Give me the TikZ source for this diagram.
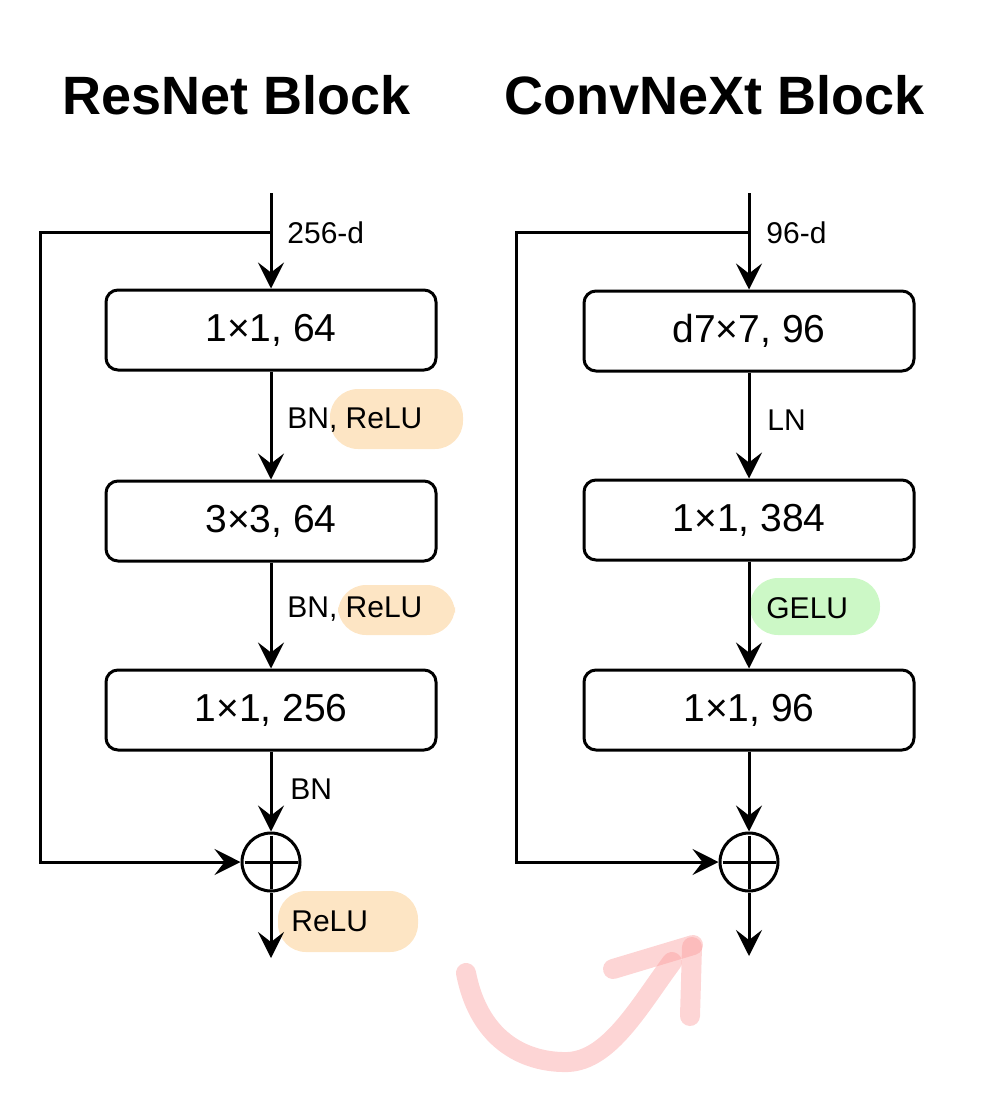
\documentclass[tikz,border=0pt]{standalone}
\usepackage{fontspec}
\setmainfont{Liberation Sans}
\usetikzlibrary{arrows.meta}
\definecolor{hlorange}{RGB}{253,229,196}
\definecolor{hlgreen}{RGB}{204,248,198}
\definecolor{pinkarrow}{RGB}{250,150,150}
\begin{document}
\begin{tikzpicture}[x=0.5pt,y=-0.5pt,
  blk/.style={draw,line width=1.5pt,rounded corners=6pt,minimum width=165pt,minimum height=40pt,font=\fontsize{19.5}{22}\selectfont,inner sep=0pt},
  conn/.style={line width=1.5pt,line join=miter,-{Stealth[length=13pt,width=13pt,inset=5pt]}},
  wire/.style={line width=1.5pt},
  lbl/.style={anchor=west,inner sep=0pt,font=\fontsize{15}{18}\selectfont},
  ttl/.style={font=\bfseries\fontsize{27}{32}\selectfont},
  hl/.style={rounded corners=14pt},
  addc/.style={draw,circle,line width=1.5pt,minimum size=29pt,inner sep=0pt},
  pinkstroke/.style={draw=pinkarrow,opacity=0.4,line width=10pt,line cap=round,line join=round}]
\useasboundingbox (0,0) rectangle (1000,1109);
% titles
\node[ttl] (t1) at (237,95) {ResNet Block};
\node[ttl] (t2) at (715,95) {ConvNeXt Block};
% highlights
\fill[hlorange,hl] (330,389) rectangle (463,449);
\fill[hlorange,hl] (338,585) rectangle (455,635);
\fill[hlorange,hl] (278,891) rectangle (418,952);
\fill[hlgreen,hl] (750,578) rectangle (880,635);
% ResNet column
\node[blk] (L1) at (271,330) {1×1, 64};
\node[blk] (L2) at (271,521) {3×3, 64};
\node[blk] (L3) at (271,710) {1×1, 256};
\node[addc] (La) at (271,862) {};
\draw[wire] ([yshift=-2pt]La.north) -- ([yshift=2pt]La.south);
\draw[wire] ([xshift=2pt]La.west) -- ([xshift=-2pt]La.east);
\coordinate (Ltop) at (271,193);
\coordinate (Lsplit) at (271,232);
\coordinate (Lc1) at (40,232);
\coordinate (Lc2) at (40,862);
\coordinate (Lout) at (271,958);
\draw[conn] (Ltop) -- (L1.north);
\draw[conn] (L1.south) -- (L2.north);
\draw[conn] (L2.south) -- (L3.north);
\draw[conn] (L3.south) -- (La.north);
\draw[conn] (Lsplit) -- (Lc1) -- (Lc2) -- (La.west);
\draw[conn] (La.south) -- (Lout);
\node[lbl] (l256) at (287,233) {256-d};
\node[lbl] (lbr1) at (287,420) {BN, ReLU};
\node[lbl] (lbr2) at (287,609) {BN, ReLU};
\node[lbl] (lbn) at (290,789) {BN};
\node[lbl] (lrelu) at (291,921) {ReLU};
% ConvNeXt column
\node[blk] (R1) at (749,331) {d7×7, 96};
\node[blk] (R2) at (749,520) {1×1, 384};
\node[blk] (R3) at (749,710) {1×1, 96};
\node[addc] (Ra) at (749,862) {};
\draw[wire] ([yshift=-2pt]Ra.north) -- ([yshift=2pt]Ra.south);
\draw[wire] ([xshift=2pt]Ra.west) -- ([xshift=-2pt]Ra.east);
\coordinate (Rtop) at (749,193);
\coordinate (Rsplit) at (749,232);
\coordinate (Rc1) at (516,232);
\coordinate (Rc2) at (516,862);
\coordinate (Rout) at (749,956);
\draw[conn] (Rtop) -- (R1.north);
\draw[conn] (R1.south) -- (R2.north);
\draw[conn] (R2.south) -- (R3.north);
\draw[conn] (R3.south) -- (Ra.north);
\draw[conn] (Rsplit) -- (Rc1) -- (Rc2) -- (Ra.west);
\draw[conn] (Ra.south) -- (Rout);
\node[lbl] (l96) at (766,233) {96-d};
\node[lbl] (lln) at (767,420) {LN};
\node[lbl] (lgelu) at (766,608) {GELU};
% pink curved arrow
\draw[pinkstroke] (466,973) .. controls (480,1045) and (530,1063) .. (568,1062) .. controls (610,1060) and (640,1005) .. (672,962);
\draw[pinkstroke] (613,969) -- (693,945);
\draw[pinkstroke] (692,947) -- (690,1016);
\end{tikzpicture}
\end{document}
